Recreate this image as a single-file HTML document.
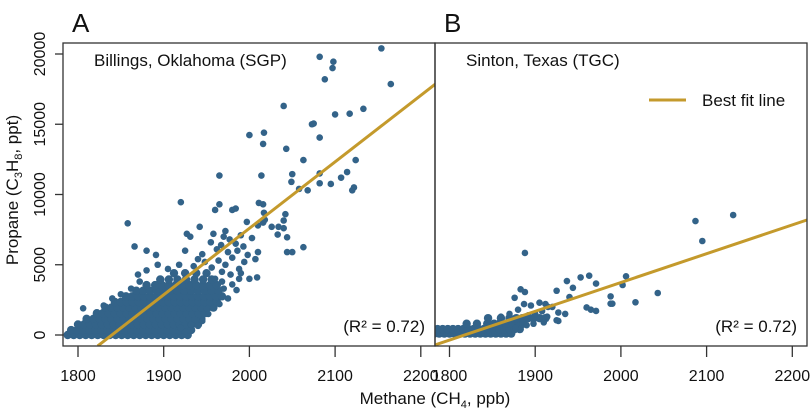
<!DOCTYPE html>
<html><head><meta charset="utf-8"><style>
body{margin:0;background:#fff;}
svg{display:block;font-family:"Liberation Sans",sans-serif;}
</style></head><body>
<svg id="chart" width="810" height="413" viewBox="0 0 810 413"></svg>
<script>
// ---- data ----
const xTicks = [1800, 1900, 2000, 2100, 2200];
const yTicks = [0, 5000, 10000, 15000, 20000];
const fitA = [[1823, -780], [2217, 17860]];
const fitB = [[1783, -710], [2217, 8185]];
const r2Label = "(R² = 0.72)";
// Panel A: dense cluster rows [propane, ch4...]
const blobRowsA = [
 [0,1788,1795,1802,1809,1816,1823,1830,1837,1844,1851,1858,1865,1872,1879,1886,1893,1900,1907,1914,1921,1928],
 [350,1792,1799,1806,1813,1820,1827,1834,1841,1848,1855,1862,1869,1876,1883,1890,1897,1904,1911,1918,1925,1932],
 [750,1800,1807,1814,1821,1828,1835,1842,1849,1856,1863,1870,1877,1884,1891,1898,1905,1912,1919,1926,1933,1940],
 [1150,1810,1818,1825,1832,1839,1846,1853,1860,1867,1874,1881,1888,1895,1902,1909,1916,1923,1930,1937,1944],
 [1550,1822,1829,1836,1843,1850,1857,1864,1871,1878,1885,1892,1899,1906,1913,1920,1927,1934,1941,1948],
 [1950,1832,1839,1846,1853,1860,1867,1874,1881,1888,1895,1902,1909,1916,1923,1930,1937,1944,1951,1958],
 [2350,1843,1850,1857,1864,1871,1878,1885,1892,1899,1906,1913,1920,1927,1934,1941,1948,1955,1962],
 [2750,1856,1863,1870,1877,1884,1891,1898,1905,1912,1919,1926,1933,1940,1947,1954,1961,1968],
 [3150,1868,1876,1884,1892,1900,1908,1916,1924,1932,1940,1948,1956,1964],
 [3550,1880,1890,1898,1906,1914,1922,1930,1938,1946,1954,1962],
 [3950,1896,1906,1916,1926,1936,1946,1956],
 [4400,1912,1925,1938,1950]
];
const pointsA = [
 [2154,20400],[2082,19800],[2098,19450],[2097,19000],[2088,18200],[2165,17860],[2040,16300],[2133,16100],
 [2100,15700],[2117,15750],[2073,15000],[2075,15050],[2082,14050],[2017,14400],[2000,14230],[2016,13600],
 [2043,13250],[2063,12450],[2124,12450],[2050,11450],[2114,11600],[2014,11350],[2082,11500],[2107,11200],
 [2049,10900],[2095,10750],[2082,10800],[2122,10500],[2120,10300],[1965,11350],[2058,10400],[2068,10300],
 [1920,9450],[2011,9400],[2016,9300],[1965,9300],[1960,8900],[1980,8900],[1984,9000],[2042,8600],
 [2017,8700],[1858,7950],[1997,8050],[2040,8150],[2018,8200],[2026,7700],[2034,7700],[2040,7600],
 [2033,7150],[2044,6950],[2063,6250],[2044,5900],[2050,5900],[2010,5900],[1866,6300],[1942,7700],
 [1927,7200],[1931,7000],[1958,7200],[1880,6000],[1891,5700],[1925,6000],[1945,5750],[1998,5700],
 [2007,5400],[1967,6400],[1977,6800],[1984,6500],[1990,7100],[1972,7400],[1955,6600],[1962,6100],
 [1975,5900],[1986,6000],[1993,6300],[2003,6900],[2010,7800],[2016,8000],[1970,7000],[1948,5200],
 [1956,4800],[1964,5300],[1972,5000],[1980,5500],[1988,4700],[1994,5200],[2000,4000],[2009,4100],
 [1988,4000],[1990,4400],[1978,4300],[1968,4500],[1958,1920],[1932,750],[1920,500],[1935,4900],
 [1918,5000],[1905,4700],[1893,5000],[1880,4600],[1870,4300],[1940,5400],[1960,4000],[1970,3300],
 [1980,3600],[1975,2600],[1965,2200],[1952,1500],[1945,1000],[1940,650],[1968,3800],[1985,3200],
 [1850,2900],[1840,2600],[1830,2100],[1806,1900],[1862,3300],[1872,3800]
];
// Panel B
const blobRowsB = [
 [100,1782,1788,1794,1800,1806,1812,1818,1824,1830,1836,1842,1848,1854,1860,1866,1872],
 [420,1786,1792,1798,1804,1810,1816,1822,1828,1834,1840,1846,1852,1858,1864,1870,1876,1882],
 [800,1820,1832,1844,1852,1858,1866,1874,1880,1886],
 [1200,1845,1860,1870,1878,1885,1892,1898,1905,1912]
];
const pointsB = [
 [2131,8540],[2087,8110],[2095,6690],[1888,5840],[1883,3250],[1888,3060],[1876,2650],[1925,3150],
 [1937,3840],[1944,3360],[1953,4100],[1963,4220],[1971,3660],[2006,4180],[2002,3560],[1988,2750],
 [1988,2230],[1990,2230],[2017,2330],[2043,2990],[1960,1960],[1965,1800],[1971,1710],[1935,1500],
 [1927,1000],[1925,1050],[1920,2000],[1927,1600],[1887,2200],[1895,2100],[1905,2300],[1912,2200],
 [1914,1300],[1910,900],[1898,800],[1890,700],[1877,500],[1900,1500],[1908,1700],[1940,2700],
 [1915,2000],[1880,1800],[1870,1500],[1860,1300],[1892,1400]
];

// ---- drawing ----
const NS = "http://www.w3.org/2000/svg";
const svg = document.getElementById("chart");
const TOP = 43, BOT = 346, Y0PX = 335, YPER = 0.01405, XPER = 0.857;
const panels = [
 {id:"a", left:63, right:435, x1800:78, letter:"A", title:"Billings, Oklahoma (SGP)", blob:blobRowsA, pts:pointsA, fit:fitA},
 {id:"b", left:435, right:807, x1800:449.5, letter:"B", title:"Sinton, Texas (TGC)", blob:blobRowsB, pts:pointsB, fit:fitB}
];
function mk(tag, attrs, parent){const e=document.createElementNS(NS,tag);for(const k in attrs)e.setAttribute(k,attrs[k]);(parent||svg).appendChild(e);return e;}
const yScale = v => Y0PX - v*YPER;

panels.forEach((p, pi) => {
  const xScale = v => p.x1800 + (v-1800)*XPER;
  const g = mk("g", {});
  
  
  const clip = mk("clipPath", {id:"clip"+p.id}, g);
  mk("rect", {x:p.left, y:TOP, width:p.right-p.left, height:BOT-TOP}, clip);
  const dots = mk("g", {"clip-path":"url(#clip"+p.id+")", fill:"#336389"}, g);
  
  
  p.blob.forEach(row => {
    for (let i=1;i<row.length;i++) {
      const c = mk("circle", {cx:xScale(row[i]), cy:yScale(row[0]), r:4.2}, dots);
      
      
    }
  });
  p.pts.forEach(pt => {
    const c = mk("circle", {cx:xScale(pt[0]), cy:yScale(pt[1]), r:3.3}, dots);
    
    
  });
  const fl = mk("line", {x1:xScale(p.fit[0][0]), y1:yScale(p.fit[0][1]), x2:xScale(p.fit[1][0]), y2:yScale(p.fit[1][1]), stroke:"#c49a2c", "stroke-width":3, "clip-path":"url(#clip"+p.id+")"}, g);
  
  
  const box = mk("rect", {x:p.left, y:TOP, width:p.right-p.left, height:BOT-TOP, fill:"none", stroke:"#333", "stroke-width":1.3}, g);
  
  
  xTicks.forEach(t => {
    const x = xScale(t);
    const tk = mk("line", {x1:x, y1:BOT, x2:x, y2:357, stroke:"#333", "stroke-width":1.3}, g);
    
    
    const tl = mk("text", {x:x, y:381, "text-anchor":"middle", "font-size":16, fill:"#111"}, g);
    tl.textContent = t;
    
    
  });
  const L = mk("text", {x:p.left+9, y:32, "font-size":26, fill:"#111"}, g);
  L.textContent = p.letter;
  
  
  const T = mk("text", {x:p.left+31, y:66, "font-size":17, fill:"#111"}, g);
  T.textContent = p.title;
  
  
  const R = mk("text", {x:p.right-10, y:332, "text-anchor":"end", "font-size":17, fill:"#111"}, g);
  R.textContent = r2Label;
  
  
});

yTicks.forEach(t => {
  const y = yScale(t);
  const tk = mk("line", {x1:55, y1:y, x2:63, y2:y, stroke:"#333", "stroke-width":1.3});
  
  
  const tl = mk("text", {x:0, y:0, "text-anchor":"middle", "font-size":16, fill:"#111", transform:"translate(45,"+y+") rotate(-90)"});
  tl.textContent = t;
  
  
});

// axis titles & legend
const xt = mk("text", {x:435, y:404, "text-anchor":"middle", "font-size":17, fill:"#111"});
xt.innerHTML = 'Methane (CH<tspan font-size="11" dy="4">4</tspan><tspan dy="-4">, ppb)</tspan>';


const yt = mk("text", {x:0, y:0, "text-anchor":"middle", "font-size":17, fill:"#111", transform:"translate(18,190) rotate(-90)"});
yt.innerHTML = 'Propane (C<tspan font-size="11" dy="4">3</tspan><tspan dy="-4">H</tspan><tspan font-size="11" dy="4">8</tspan><tspan dy="-4">, ppt)</tspan>';


const lg = mk("g", {});


const ll = mk("line", {x1:649, y1:100, x2:686, y2:100, stroke:"#c49a2c", "stroke-width":3}, lg);


const lt = mk("text", {x:702, y:106, "font-size":17, fill:"#111"}, lg);
lt.textContent = "Best fit line";


</script>
</body></html>
